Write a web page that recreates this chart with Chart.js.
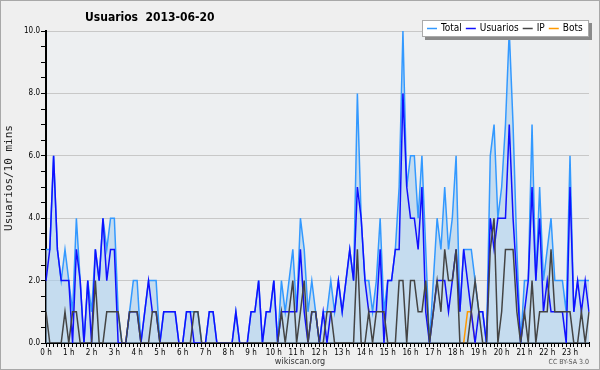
<!DOCTYPE html>
<html lang="es">
<head>
<meta charset="UTF-8">
<title>Usuarios 2013-06-20</title>
<script src="https://cdn.jsdelivr.net/npm/chart.js@4.4.0/dist/chart.umd.min.js"></script>
<style>
  body { margin: 0; background: #efefef; }
  #wrap { width: 600px; height: 370px; }
</style>
</head>
<body>
<div id="wrap"><canvas id="graphique" width="600" height="370"></canvas></div>
<script>
    // Etiquetas de las horas (una cada 6 tramos de 10 min)
    const hourLabels = ['0 h', '1 h', '2 h', '3 h', '4 h', '5 h', '6 h', '7 h', '8 h', '9 h', '10 h', '11 h',
        '12 h', '13 h', '14 h', '15 h', '16 h', '17 h', '18 h', '19 h', '20 h', '21 h', '22 h', '23 h'];

    // tramos de 10 minutos
    const slots = [];
    for (let h = 0; h < 24; h++) {
        for (let m = 0; m < 60; m += 10) {
            slots.push(h + ':' + String(m).padStart(2, '0'));
        }
    }

    const total = [
        3, 3, 6, 3, 2, 3, 2, 1, 4, 2, 0, 2,
        1, 3, 2, 4, 3, 4, 4, 1, 0, 0, 1, 2,
        2, 0, 1, 2, 2, 2, 0, 1, 1, 1, 1, 0,
        0, 1, 1, 1, 1, 0, 0, 1, 1, 0, 0, 0,
        0, 0, 1, 0, 0, 0, 1, 1, 2, 0, 1, 1,
        2, 0, 2, 1, 2, 3, 1, 4, 3, 1, 2, 1,
        0, 1, 1, 2, 1, 2, 1, 2, 3, 2, 8, 4,
        2, 2, 1, 2, 4, 1, 2, 2, 3, 5, 10, 5,
        6, 6, 4, 6, 3, 0, 2, 4, 3, 5, 3, 4,
        6, 1, 3, 3, 3, 2, 1, 1, 0, 6, 7, 4,
        5, 7, 10, 7, 3, 0, 2, 2, 7, 2, 5, 2,
        3, 4, 2, 2, 2, 1, 6, 1, 2, 2, 2, 2
    ];

    const usuarios = [
        2, 3, 6, 3, 2, 2, 2, 0, 3, 2, 0, 2,
        0, 3, 2, 4, 2, 3, 3, 0, 0, 0, 1, 1,
        1, 0, 1, 2, 1, 1, 0, 1, 1, 1, 1, 0,
        0, 1, 1, 0, 0, 0, 0, 1, 1, 0, 0, 0,
        0, 0, 1, 0, 0, 0, 1, 1, 2, 0, 1, 1,
        2, 0, 1, 1, 1, 1, 1, 3, 1, 0, 1, 1,
        0, 1, 0, 1, 1, 2, 1, 2, 3, 2, 5, 4,
        2, 1, 1, 1, 3, 0, 2, 2, 3, 3, 8, 5,
        4, 4, 3, 5, 1, 0, 1, 2, 2, 2, 1, 2,
        3, 1, 3, 2, 1, 0, 1, 1, 0, 4, 3, 4,
        4, 4, 7, 4, 2, 0, 1, 2, 5, 2, 4, 1,
        2, 1, 1, 1, 1, 0, 5, 1, 2, 1, 2, 1
    ];

    const ip = [
        1, 0, 0, 0, 0, 1, 0, 1, 1, 0, 0, 0,
        0, 2, 0, 0, 1, 1, 1, 1, 0, 0, 1, 1,
        1, 0, 0, 0, 1, 1, 0, 0, 0, 0, 0, 0,
        0, 0, 0, 1, 1, 0, 0, 0, 0, 0, 0, 0,
        0, 0, 0, 0, 0, 0, 0, 0, 0, 0, 0, 0,
        0, 0, 1, 0, 1, 2, 0, 1, 2, 0, 1, 1,
        0, 0, 1, 1, 0, 0, 0, 0, 0, 0, 3, 0,
        0, 1, 0, 1, 1, 1, 0, 0, 0, 2, 2, 0,
        2, 2, 1, 1, 2, 0, 1, 2, 1, 3, 2, 2,
        3, 0, 0, 0, 1, 2, 1, 0, 0, 3, 4, 0,
        1, 3, 3, 3, 1, 0, 1, 0, 2, 0, 1, 1,
        1, 3, 1, 1, 1, 1, 1, 0, 0, 1, 0, 1
    ];

    const bots = [
        0, 0, 0, 0, 0, 0, 0, 0, 0, 0, 0, 0,
        0, 0, 0, 0, 0, 0, 0, 0, 0, 0, 0, 0,
        0, 0, 0, 0, 0, 0, 0, 0, 0, 0, 0, 0,
        0, 0, 0, 0, 0, 0, 0, 0, 0, 0, 0, 0,
        0, 0, 0, 0, 0, 0, 0, 0, 0, 0, 0, 0,
        0, 0, 0, 0, 0, 0, 0, 0, 0, 0, 0, 0,
        0, 0, 0, 0, 0, 0, 0, 0, 0, 0, 0, 0,
        0, 0, 0, 0, 0, 0, 0, 0, 0, 0, 0, 0,
        0, 0, 0, 0, 0, 0, 0, 0, 0, 0, 0, 0,
        0, 0, 0, 1, 1, 0, 0, 0, 0, 0, 0, 0,
        0, 0, 0, 0, 0, 0, 0, 0, 0, 0, 0, 0,
        0, 0, 0, 0, 0, 0, 0, 0, 0, 0, 0, 0
    ];

    const FONT = "'DejaVu Sans Condensed', 'DejaVu Sans', sans-serif";

    // fondo, titulo, leyenda y pie
    const decor = {
        id: 'decor',
        beforeDraw(chart) {
            const ctx = chart.ctx;
            const a = chart.chartArea;
            ctx.save();
            ctx.fillStyle = '#efefef';
            ctx.fillRect(0, 0, chart.width, chart.height);
            ctx.fillStyle = '#edeff1';
            ctx.fillRect(a.left, a.top, a.right - a.left, a.bottom - a.top);
            ctx.restore();
        },
        afterDraw(chart) {
            const ctx = chart.ctx;
            ctx.save();

            // titulo
            ctx.fillStyle = '#000';
            ctx.font = "bold 12px " + FONT;
            ctx.textAlign = 'left';
            ctx.textBaseline = 'middle';
            ctx.fillText('Usuarios  2013-06-20', 85, 18);

            // titulo del eje y
            ctx.save();
            ctx.translate(9, 178);
            ctx.rotate(-Math.PI / 2);
            ctx.textAlign = 'center';
            ctx.fillStyle = '#222';
            ctx.font = "11px 'DejaVu Sans Mono', monospace";
            ctx.fillText('Usuarios/10 mins', 0, 0);
            ctx.restore();

            // leyenda
            const bx = 422, by = 20, bw = 167, bh = 17;
            ctx.fillStyle = '#8a8a8a';
            ctx.fillRect(bx + 3, by + 3, bw, bh);
            ctx.fillStyle = '#fff';
            ctx.fillRect(bx, by, bw, bh);
            ctx.strokeStyle = '#aaa';
            ctx.lineWidth = 1;
            ctx.strokeRect(bx + 0.5, by + 0.5, bw - 1, bh - 1);

            ctx.font = "10px " + FONT;
            let x = bx + 5;
            const y = by + 8.5;
            chart.data.datasets.forEach(ds => {
                ctx.strokeStyle = ds.borderColor;
                ctx.lineWidth = 1.5;
                ctx.beginPath();
                ctx.moveTo(x, y);
                ctx.lineTo(x + 10, y);
                ctx.stroke();
                ctx.fillStyle = '#000';
                ctx.fillText(ds.label, x + 14, y);
                x += 14 + ctx.measureText(ds.label).width + 4;
            });

            // pie
            ctx.fillStyle = '#333';
            ctx.font = "9px " + FONT;
            ctx.textAlign = 'center';
            ctx.fillText('wikiscan.org', 300, 362);
            ctx.fillStyle = '#555';
            ctx.font = "7px " + FONT;
            ctx.textAlign = 'right';
            ctx.fillText('CC BY-SA 3.0', 589, 362);

            // borde
            ctx.strokeStyle = '#a8a8a8';
            ctx.lineWidth = 1;
            ctx.strokeRect(0.5, 0.5, chart.width - 1, chart.height - 1);
            ctx.restore();
        }
    };

    const ctx = document.getElementById('graphique').getContext('2d');

    new Chart(ctx, {
        type: 'line',
        data: {
            labels: slots,
            datasets: [
                {
                    label: 'Total',
                    data: total,
                    borderColor: '#3399ff',
                    backgroundColor: 'rgba(170, 207, 239, 0.6)',
                    fill: 'origin',
                    order: 5
                },
                {
                    label: 'Usuarios',
                    data: usuarios,
                    borderColor: '#1010ff',
                    fill: false,
                    order: 3
                },
                {
                    label: 'IP',
                    data: ip,
                    borderColor: '#444444',
                    fill: false,
                    order: 2
                },
                {
                    label: 'Bots',
                    data: bots,
                    borderColor: '#ff9900',
                    fill: false,
                    order: 4,
                    // tramos pegados al eje quedan ocultos bajo él
                    segment: {
                        borderColor: c => (c.p0.parsed.y === 0 && c.p1.parsed.y === 0 ? 'transparent' : undefined)
                    }
                }
            ]
        },
        options: {
            responsive: false,
            animation: false,
            devicePixelRatio: 1,
            layout: { padding: { left: 0, right: 11, top: 31, bottom: 0 } },
            plugins: {
                legend: { display: false },
                title: { display: false },
                tooltip: { enabled: false }
            },
            elements: {
                point: { radius: 0 },
                line: { tension: 0, borderWidth: 1.5 }
            },
            scales: {
                x: {
                    type: 'category',
                    offset: false,
                    z: 1,
                    grid: { drawOnChartArea: false, drawTicks: true, tickLength: 4, tickColor: '#000' },
                    border: { color: '#000', width: 2 },
                    ticks: {
                        autoSkip: false,
                        maxRotation: 0,
                        minRotation: 0,
                        padding: 1,
                        color: '#000',
                        font: { family: FONT, size: 8 },
                        callback: (v, i) => (i % 6 === 0 ? hourLabels[i / 6] : '')
                    },
                    afterFit: s => { s.height = 27; }
                },
                y: {
                    min: 0,
                    max: 10,
                    ticks: {
                        stepSize: 0.5,
                        maxTicksLimit: 30,
                        autoSkip: false,
                        padding: 1,
                        color: '#000',
                        font: { family: FONT, size: 8 },
                        callback: v => (v % 2 === 0 ? v.toFixed(1) : '')
                    },
                    grid: {
                        color: c => (c.tick && c.tick.value % 2 === 0 && c.tick.value > 0 ? '#c8c8c8' : 'transparent'),
                        tickColor: '#000',
                        tickLength: 5
                    },
                    border: { color: '#000', width: 2 },
                    afterFit: s => { s.width = 46; }
                }
            }
        },
        plugins: [decor]
    });
</script>
</body>
</html>
